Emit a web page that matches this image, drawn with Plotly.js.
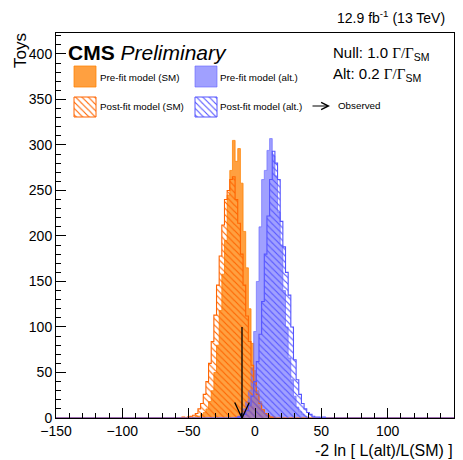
<!DOCTYPE html>
<html><head><meta charset="utf-8">
<script src="https://cdn.plot.ly/plotly-3.0.1.min.js"></script>
<style>html,body{margin:0;padding:0;background:#fff}#chart{width:463px;height:460px}</style>
</head><body><div id="chart"></div>
<script>
// ---- data ----
const binCenters = [-56,-54,-52,-50,-48,-46,-44,-42,-40,-38,-36,-34,-32,-30,-28,-26,-24,-22,-20,-18,-16,-14,-12,-10,-8,-6,-4,-2,0,2,4,6,8,10,12,14,16,18,20,22,24,26,28,30,32,34,36,38,40,42,44,46,48,50,52,54,56];
const binWidth = 2;
const smPre = [0,0,0,1,0,1,2,2,4,6,10,18,30,50,80,118,158,195,245,272,305,282,296,258,205,165,120,82,52,30,18,9,5,3,1,1,0,0,0,0,0,0,0,0,0,0,0,0,0,0,0,0,0,0,0,0,0];
const smPost = [0,1,0,1,2,3,5,10,16,26,40,60,84,113,146,178,212,240,250,262,265,240,214,180,146,112,84,58,40,26,16,9,5,3,1,1,0,0,0,0,0,0,0,0,0,0,0,0,0,0,0,0,0,0,0,0,0];
const altPre = [0,0,0,0,0,0,0,0,0,0,0,0,0,0,0,0,0,0,0,0,0,1,2,5,10,18,30,55,95,150,210,262,272,294,307,288,266,226,190,140,100,66,42,24,12,7,4,2,1,0,0,0,0,0,0,0,0];
const altPost = [0,0,0,0,0,0,0,0,0,0,0,0,0,0,0,0,0,0,0,0,0,0,1,2,4,8,14,24,40,62,92,128,180,222,262,293,280,262,216,188,160,135,100,64,42,26,16,10,6,4,2,1,1,0,1,0,0];
const observed = -9.8;
const xTickVals = [-150,-100,-50,0,50,100,150];
const yTickVals = [0,50,100,150,200,250,300,350,400];
const legendLabels = ["Pre-fit model (SM)","Pre-fit model (alt.)","Post-fit model (SM)","Post-fit model (alt.)","Observed"];

// ---- layout geometry / style ----
const W = 463, H = 460;
const M = {l:56, r:9, t:33, b:42};
const XR = [-150,150], YR = [0,423];
const FONT = "Liberation Sans, Arial, Helvetica, sans-serif";
const px2x = px => (px - M.l) / (W - M.l - M.r);
const py2y = py => (H - M.b - py) / (H - M.t - M.b);
const ARROW = {top:100, headHalfWidth:5.5, headHeight:17};

const C = {
  smFill: 'rgba(255,128,0,0.75)',
  altFill: 'rgba(102,102,255,0.62)',
  smLine: 'rgb(255,100,0)',
  altLine: 'rgb(85,85,255)'
};

function stepXY(vals){
  const xs = [XR[0]], ys = [0];
  binCenters.forEach((c,i)=>{ xs.push(c - binWidth/2); ys.push(vals[i]); });
  xs.push(binCenters[binCenters.length-1] + binWidth/2); ys.push(0);
  xs.push(XR[1]); ys.push(0);
  return {xs, ys};
}
function histTrace(vals, fill, line, lw, hatch){
  const s = stepXY(vals);
  const t = {
    type:'scatter', mode:'lines', x:s.xs, y:s.ys,
    line:{shape:'hv', color:line, width:lw},
    fill:'tozeroy', showlegend:false, hoverinfo:'skip'
  };
  if (hatch){
    t.fillcolor = 'rgba(0,0,0,0)';
    t.fillpattern = {shape:'\\', fgcolor:line, bgcolor:'rgba(0,0,0,0)', size:4.5, solidity:0.25};
  } else {
    t.fillcolor = fill;
  }
  return t;
}

const traces = [
  histTrace(smPre, C.smFill, C.smFill, 1, false),
  histTrace(altPre, C.altFill, C.altFill, 1, false),
  histTrace(smPost, null, C.smLine, 1.1, true),
  histTrace(altPost, null, C.altLine, 1.1, true)
];

// observed arrow (shaft + open head) in data coordinates
traces.push({
  type:'scatter', mode:'lines', showlegend:false, hoverinfo:'skip',
  x:[observed, observed, null, observed-ARROW.headHalfWidth, observed, observed+ARROW.headHalfWidth],
  y:[ARROW.top, 0, null, ARROW.headHeight, 0, ARROW.headHeight],
  line:{color:'#000', width:1.3}
});

// legend swatches (on an overlay 0..1 axis pair)
const swatches = [
  {x0:74, x1:96, y0:66, y1:87, fill:C.smFill, line:C.smFill, hatch:false},
  {x0:195, x1:217, y0:66, y1:87, fill:C.altFill, line:C.altFill, hatch:false},
  {x0:74, x1:96, y0:97, y1:117, fill:null, line:C.smLine, hatch:true},
  {x0:195, x1:217, y0:97, y1:117, fill:null, line:C.altLine, hatch:true}
];
swatches.forEach(s=>{
  const a = px2x(s.x0), b = px2x(s.x1), c = py2y(s.y1), d = py2y(s.y0);
  const t = {type:'scatter', mode:'lines', xaxis:'x2', yaxis:'y2',
    x:[a,b,b,a,a], y:[c,c,d,d,c], fill:'toself', showlegend:false, hoverinfo:'skip',
    line:{color:s.line, width:1}};
  if (s.hatch){ t.fillcolor='rgba(0,0,0,0)'; t.fillpattern={shape:'\\', fgcolor:s.line, bgcolor:'rgba(0,0,0,0)', size:4.5, solidity:0.25}; }
  else t.fillcolor = s.fill;
  traces.push(t);
});

function ann(text, px, py, size, xanchor, extra){
  return Object.assign({text, xref:'paper', yref:'paper', x:px2x(px), y:py2y(py),
    xanchor:xanchor||'left', yanchor:'middle', showarrow:false,
    font:{family:FONT, size:size, color:'#000'}}, extra||{});
}
const G = "<span style='font-family:Liberation Serif, serif'>Γ/Γ</span>";
const annotations = [
  ann('Toys', 20, 51, 17, 'center', {textangle:-90}),
  ann('-2 ln [ L(alt)/L(SM) ]', 455, 450, 16, 'right'),
  ann('12.9 fb<sup>-1</sup> (13 TeV)', 447, 17, 14, 'right'),
  ann('<b>CMS</b> <i>Preliminary</i>', 66, 52, 21, 'left'),
  ann('Null: 1.0 ' + G + '<sub>SM</sub>', 331, 53, 15, 'left'),
  ann('Alt: 0.2 ' + G + '<sub>SM</sub>', 331, 74, 15, 'left'),
  ann(legendLabels[0], 98, 77, 9.8, 'left'),
  ann(legendLabels[1], 218, 77, 9.8, 'left'),
  ann(legendLabels[2], 98, 107, 9.8, 'left'),
  ann(legendLabels[3], 218, 107, 9.8, 'left'),
  ann(legendLabels[4], 336, 106, 9.8, 'left'),
  {text:'', xref:'paper', yref:'paper', x:px2x(330), y:py2y(106), ax:-19, ay:0,
   showarrow:true, arrowhead:5, arrowsize:1.3, arrowwidth:1.1, arrowcolor:'#000', standoff:0}
];

const axBase = {
  showgrid:false, zeroline:false, showline:true, linecolor:'#000', linewidth:1, mirror:true,
  ticks:'inside', ticklen:10, tickwidth:1, tickcolor:'#000',
  tickfont:{family:FONT, size:14, color:'#000'}
};
const layout = {
  width:W, height:H, margin:M, paper_bgcolor:'#fff', plot_bgcolor:'#fff',
  font:{family:FONT},
  showlegend:false,
  xaxis:Object.assign({}, axBase, {range:XR, tickvals:xTickVals, ticktext:xTickVals.map(v=>v<0?'\u2212'+(-v):String(v)),
    minor:{dtick:10, tick0:0, ticks:'inside', ticklen:5, tickcolor:'#000', showgrid:false}}),
  yaxis:Object.assign({}, axBase, {range:YR, tickvals:yTickVals,
    minor:{dtick:10, tick0:0, ticks:'inside', ticklen:5, tickcolor:'#000', showgrid:false}}),
  xaxis2:{overlaying:'x', range:[0,1], visible:false, anchor:'y2', fixedrange:true},
  yaxis2:{overlaying:'y', range:[0,1], visible:false, anchor:'x2', fixedrange:true},
  annotations
};
Plotly.newPlot('chart', traces, layout, {staticPlot:true, displayModeBar:false});
</script></body></html>
